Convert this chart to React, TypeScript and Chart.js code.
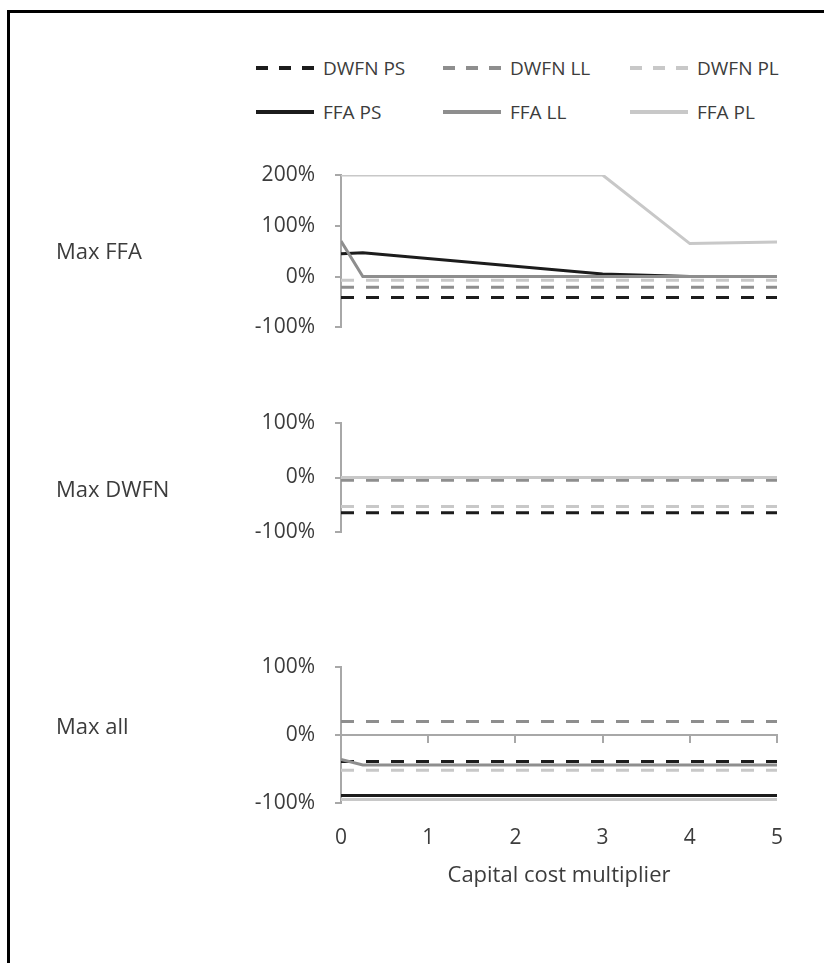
import React, { useEffect, useRef } from 'react';
import { Chart, registerables } from 'chart.js';

Chart.register(...registerables);

// ---- data (percent change) -------------------------------------------------
const SERIES_NAMES = ['DWFN PS', 'DWFN LL', 'DWFN PL', 'FFA PS', 'FFA LL', 'FFA PL'];
const X_TICKS = [0, 1, 2, 3, 4, 5];
const X_SPAN = [0, 5];

// Max FFA
const maxFfaDwfnPS = [-41, -41];
const maxFfaDwfnLL = [-21, -21];
const maxFfaDwfnPL = [-7, -7];
const maxFfaFfaPSX = [0, 0.25, 3, 4, 5];
const maxFfaFfaPS = [45, 47, 5, 0, 0];
const maxFfaFfaLLX = [0, 0.25, 5];
const maxFfaFfaLL = [70, 0, 0];
const maxFfaFfaPLX = [0, 3, 4, 5];
const maxFfaFfaPL = [200, 200, 65, 68];

// Max DWFN
const maxDwfnDwfnPS = [-64, -64];
const maxDwfnDwfnLL = [-5, -5];
const maxDwfnDwfnPL = [-53, -53];
const maxDwfnFfaPS = [0, 0];
const maxDwfnFfaLL = [0, 0];
const maxDwfnFfaPL = [0, 0];

// Max all
const maxAllDwfnPS = [-39, -39];
const maxAllDwfnLL = [20, 20];
const maxAllDwfnPL = [-52, -52];
const maxAllFfaPS = [-89, -89];
const maxAllFfaLLX = [0, 0.25, 5];
const maxAllFfaLL = [-36, -44, -44];
const maxAllFfaPL = [-95, -95];

// ---- styling ---------------------------------------------------------------
const BLACK = '#1c1c1c';
const MID = '#8e8e8e';
const LIGHT = '#c8c8c8';
const AXIS = '#a8a8a8';
const TEXT = '#3c3c3c';
const FONT = '"Open Sans", "Noto Sans", sans-serif';

const STYLES = [
  { color: BLACK, dash: true },
  { color: MID, dash: true },
  { color: LIGHT, dash: true },
  { color: BLACK, dash: false },
  { color: MID, dash: false },
  { color: LIGHT, dash: false },
];

type Series = { x: number[]; y: number[] };

const PANELS: {
  label: string;
  labelY: number;
  top: number;
  height: number;
  padTop: number;
  padBottom: number;
  yMin: number;
  yMax: number;
  withXAxis: boolean;
  series: Series[];
}[] = [
  {
    label: 'Max FFA',
    labelY: 250,
    top: 140,
    height: 220,
    padTop: 35,
    padBottom: 18,
    yMin: -100,
    yMax: 200,
    withXAxis: false,
    series: [
      { x: X_SPAN, y: maxFfaDwfnPS },
      { x: X_SPAN, y: maxFfaDwfnLL },
      { x: X_SPAN, y: maxFfaDwfnPL },
      { x: maxFfaFfaPSX, y: maxFfaFfaPS },
      { x: maxFfaFfaLLX, y: maxFfaFfaLL },
      { x: maxFfaFfaPLX, y: maxFfaFfaPL },
    ],
  },
  {
    label: 'Max DWFN',
    labelY: 488,
    top: 390,
    height: 175,
    padTop: 30,
    padBottom: 22,
    yMin: -100,
    yMax: 100,
    withXAxis: false,
    series: [
      { x: X_SPAN, y: maxDwfnDwfnPS },
      { x: X_SPAN, y: maxDwfnDwfnLL },
      { x: X_SPAN, y: maxDwfnDwfnPL },
      { x: X_SPAN, y: maxDwfnFfaPS },
      { x: X_SPAN, y: maxDwfnFfaLL },
      { x: X_SPAN, y: maxDwfnFfaPL },
    ],
  },
  {
    label: 'Max all',
    labelY: 725,
    top: 630,
    height: 270,
    padTop: 37,
    padBottom: 0,
    yMin: -100,
    yMax: 100,
    withXAxis: true,
    series: [
      { x: X_SPAN, y: maxAllDwfnPS },
      { x: X_SPAN, y: maxAllDwfnLL },
      { x: X_SPAN, y: maxAllDwfnPL },
      { x: X_SPAN, y: maxAllFfaPS },
      { x: maxAllFfaLLX, y: maxAllFfaLL },
      { x: X_SPAN, y: maxAllFfaPL },
    ],
  },
];

const PLOT_LEFT = 341;
const PLOT_RIGHT = 777;
const PAGE_W = 824;

function Panel(props: (typeof PANELS)[number]) {
  const ref = useRef<HTMLCanvasElement>(null);

  useEffect(() => {
    if (!ref.current) return;
    const datasets = props.series.map((s, i) => ({
      label: SERIES_NAMES[i],
      data: s.x.map((x, j) => ({ x, y: s.y[j] })),
      borderColor: STYLES[i].color,
      backgroundColor: STYLES[i].color,
      borderWidth: 3,
      borderDash: STYLES[i].dash ? [13, 12] : [],
      borderCapStyle: 'butt' as const,
      pointRadius: 0,
      pointHoverRadius: 0,
      tension: 0,
      fill: false,
      // later series are painted over earlier ones
      order: -i,
      xAxisID: 'x',
      yAxisID: 'y',
    }));

    const tickFont = { family: FONT, size: 21 };

    const scales: any = {
      y: {
        type: 'linear',
        min: props.yMin,
        max: props.yMax,
        afterFit: (s: any) => {
          s.width = PLOT_LEFT;
        },
        ticks: {
          stepSize: 100,
          callback: (v: any) => `${v}%`,
          font: tickFont,
          color: TEXT,
          padding: 20,
        },
        grid: {
          drawOnChartArea: false,
          drawTicks: true,
          tickLength: 6,
          color: AXIS,
          lineWidth: 2,
        },
        border: { display: true, color: AXIS, width: 2 },
      },
    };

    if (props.withXAxis) {
      // category axis line crossing at 0 %, with tick marks hanging below
      scales.x = {
        type: 'linear',
        min: 0,
        max: 5,
        position: { y: 0 },
        ticks: { stepSize: 1, display: false },
        grid: {
          drawOnChartArea: false,
          drawTicks: true,
          tickLength: 7,
          color: AXIS,
          lineWidth: 2,
        },
        border: { display: true, color: AXIS, width: 2 },
      };
      // labels and title along the bottom
      scales.xb = {
        type: 'linear',
        position: 'bottom',
        min: 0,
        max: 5,
        afterFit: (s: any) => {
          s.height = 97;
        },
        afterBuildTicks: (s: any) => {
          s.ticks = X_TICKS.map((v) => ({ value: v }));
        },
        ticks: { font: tickFont, color: TEXT, padding: 22, maxRotation: 0 },
        grid: { display: false, drawTicks: false },
        border: { display: false },
        title: {
          display: true,
          text: 'Capital cost multiplier',
          font: { family: FONT, size: 22 },
          color: TEXT,
          padding: { top: 0, bottom: 11 },
        },
      };
    } else {
      scales.x = { type: 'linear', min: 0, max: 5, display: false };
    }

    const chart = new Chart(ref.current, {
      type: 'line',
      data: { datasets },
      options: {
        responsive: false,
        animation: false,
        events: [],
        layout: {
          padding: {
            left: 0,
            right: PAGE_W - PLOT_RIGHT,
            top: props.padTop,
            bottom: props.padBottom,
          },
        },
        plugins: {
          legend: { display: false },
          tooltip: { enabled: false },
        },
        scales,
      },
    });
    return () => chart.destroy();
  }, []);

  return (
    <>
      <canvas
        ref={ref}
        width={PAGE_W}
        height={props.height}
        style={{ position: 'absolute', left: 0, top: props.top, width: PAGE_W, height: props.height }}
      />
      <div
        style={{
          position: 'absolute',
          left: 56,
          top: props.labelY - 15,
          height: 30,
          lineHeight: '30px',
          font: `22px ${FONT}`,
          color: TEXT,
          whiteSpace: 'nowrap',
        }}
      >
        {props.label}
      </div>
    </>
  );
}

const LEGEND_COLS = [256, 443, 630];
const LEGEND_ROWS = [68, 112];
const SAMPLE_W = 58;

function Legend() {
  return (
    <>
      {SERIES_NAMES.map((name, i) => {
        const st = STYLES[i];
        return (
          <div
            key={name}
            style={{
              position: 'absolute',
              left: LEGEND_COLS[i % 3],
              top: LEGEND_ROWS[Math.floor(i / 3)] - 15,
              height: 30,
              display: 'flex',
              alignItems: 'center',
              whiteSpace: 'nowrap',
            }}
          >
            <svg width={SAMPLE_W} height={8} style={{ display: 'block' }}>
              <line
                x1={0}
                y1={4}
                x2={SAMPLE_W}
                y2={4}
                stroke={st.color}
                strokeWidth={4}
                strokeDasharray={st.dash ? '12 11' : undefined}
              />
            </svg>
            <span style={{ marginLeft: 9, font: `19px ${FONT}`, lineHeight: '30px', color: TEXT }}>{name}</span>
          </div>
        );
      })}
    </>
  );
}

export default function App() {
  return (
    <div
      style={{
        position: 'absolute',
        left: 0,
        top: 0,
        width: PAGE_W,
        height: 963,
        overflow: 'hidden',
        background: '#fff',
      }}
    >
      <div
        style={{
          position: 'absolute',
          left: 7,
          top: 10,
          width: 900,
          height: 1000,
          borderLeft: '3px solid #000',
          borderTop: '3px solid #000',
        }}
      />
      <Legend />
      {PANELS.map((p) => (
        <Panel key={p.label} {...p} />
      ))}
    </div>
  );
}
